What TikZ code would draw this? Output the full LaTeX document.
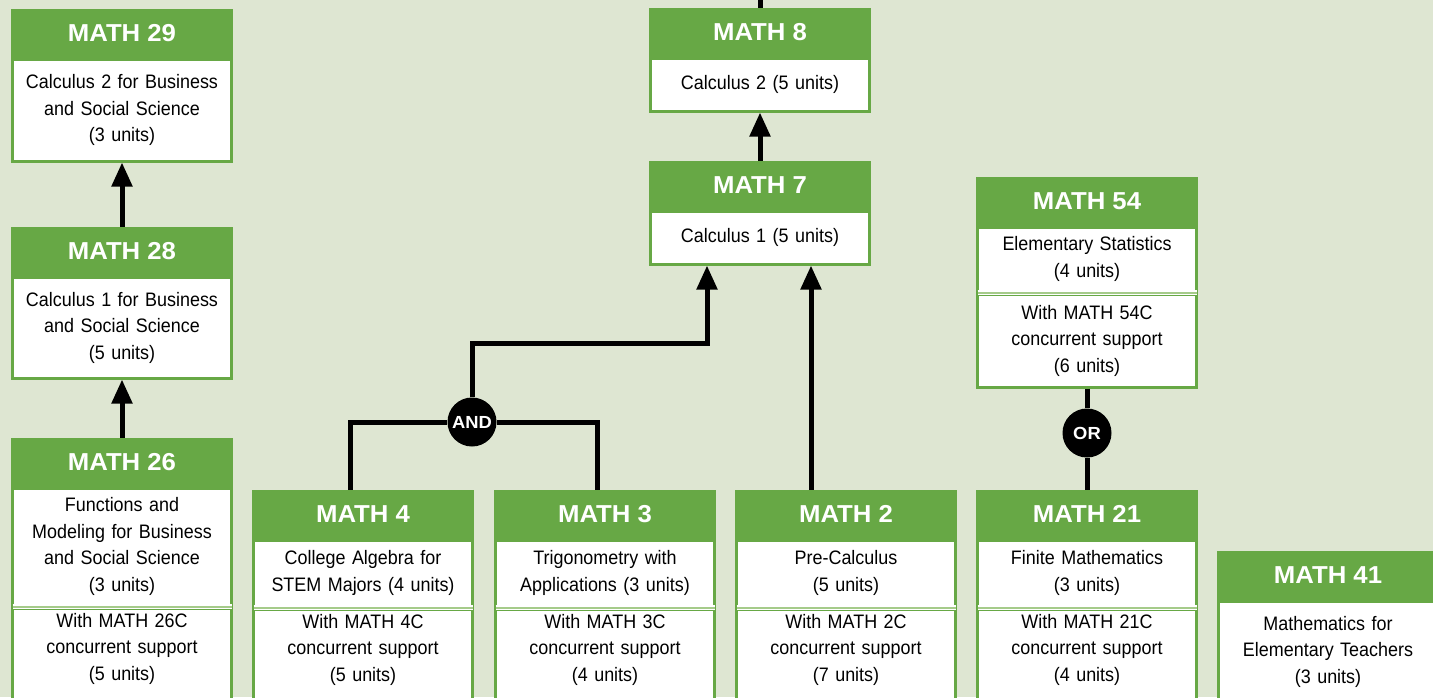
\documentclass[tikz,border=0pt]{standalone}
\usepackage{fontspec}
\usetikzlibrary{arrows.meta}
\newfontfamily\bodyfamily{Liberation Sans}[FakeStretch=0.92]
\newfontfamily\hdrfamily{Liberation Sans}[FakeStretch=1.05]
\definecolor{bggreen}{HTML}{DEE6D2}
\definecolor{mgreen}{HTML}{67A845}
\definecolor{divgreen}{HTML}{A5CB8A}
\tikzset{
  hdr/.style={rectangle, fill=mgreen, draw=mgreen, line width=3pt, text=white,
    font=\hdrfamily\fontsize{24.5}{28}\selectfont\bfseries,
    minimum width=219pt, minimum height=46pt, inner sep=0pt},
  unit/.style={rectangle, fill=white, draw=mgreen, line width=3pt, anchor=north,
    text width=210pt, align=center, minimum width=219pt, inner sep=4pt,
    font=\bodyfamily\fontsize{19.5}{26.5}\selectfont},
  gate/.style={circle, fill=black, text=white, minimum size=49pt, inner sep=0pt,
    font=\hdrfamily\fontsize{17.5}{18}\selectfont\bfseries},
  link/.style={line width=5pt},
  arr/.style={line width=5pt, -{Triangle[width=20pt,length=24pt]}},
  divider/.style={draw=divgreen, line width=2pt, preaction={draw=white, line width=5pt}}
}
\begin{document}
\begin{tikzpicture}[x=1pt, y=-1pt]
  \useasboundingbox (0,0) rectangle (1433,697);
  \fill[bggreen] (0,0) rectangle (1433,697);
  % Business calculus column
  \node[hdr] (m29) at (122,33) {MATH 29};
  \node[unit, minimum height=102pt] (m29b) at (m29.south) {Calculus 2 for Business\\and Social Science\\(3 units)};
  \node[hdr] (m28) at (122,251) {MATH 28};
  \node[unit, minimum height=101pt] (m28b) at (m28.south) {Calculus 1 for Business\\and Social Science\\(5 units)};
  \node[hdr] (m26) at (122,462) {MATH 26};
  \node[unit, minimum height=117pt] (m26b) at (m26.south) {Functions and\\Modeling for Business\\and Social Science\\(3 units)};
  \node[unit, inner ysep=5pt] (m26c) at (m26b.south) {With MATH 26C\\concurrent support\\(5 units)\\[30pt]\mbox{}};
  % STEM calculus
  \node[hdr] (m8) at (760,32) {MATH 8};
  \node[unit, minimum height=53pt] (m8b) at (m8.south) {Calculus 2 (5 units)};
  \node[hdr] (m7) at (760,185) {MATH 7};
  \node[unit, minimum height=53pt] (m7b) at (m7.south) {Calculus 1 (5 units)};
  % Statistics
  \node[hdr] (m54) at (1087,201) {MATH 54};
  \node[unit, minimum height=64pt] (m54b) at (m54.south) {Elementary Statistics\\(4 units)};
  \node[unit, minimum height=93pt] (m54c) at (m54b.south) {With MATH 54C\\concurrent support\\(6 units)};
  % Bottom row
  \node[hdr] (m4) at (363,514) {MATH 4};
  \node[unit, minimum height=66pt] (m4b) at (m4.south) {College Algebra for\\STEM Majors (4 units)};
  \node[unit, inner ysep=5pt] (m4c) at (m4b.south) {With MATH 4C\\concurrent support\\(5 units)\\[30pt]\mbox{}};
  \node[hdr] (m3) at (605,514) {MATH 3};
  \node[unit, minimum height=66pt] (m3b) at (m3.south) {Trigonometry with\\Applications (3 units)};
  \node[unit, inner ysep=5pt] (m3c) at (m3b.south) {With MATH 3C\\concurrent support\\(4 units)\\[30pt]\mbox{}};
  \node[hdr] (m2) at (846,514) {MATH 2};
  \node[unit, minimum height=66pt] (m2b) at (m2.south) {Pre-Calculus\\(5 units)};
  \node[unit, inner ysep=5pt] (m2c) at (m2b.south) {With MATH 2C\\concurrent support\\(7 units)\\[30pt]\mbox{}};
  \node[hdr] (m21) at (1087,514) {MATH 21};
  \node[unit, minimum height=66pt] (m21b) at (m21.south) {Finite Mathematics\\(3 units)};
  \node[unit, inner ysep=5pt] (m21c) at (m21b.south) {With MATH 21C\\concurrent support\\(4 units)\\[30pt]\mbox{}};
  \node[hdr] (m41) at (1328,575) {MATH 41};
  \node[unit, inner ysep=15pt] (m41b) at (m41.south) {Mathematics for\\Elementary Teachers\\(3 units)\\[30pt]\mbox{}};
  % Light rules between course and support parts
  \foreach \c in {m26c,m54c,m4c,m3c,m2c,m21c}
    \draw[divider] ([xshift=1.5pt]\c.north west) -- ([xshift=-1.5pt]\c.north east);
  % Gates
  \node[gate] (andgate) at (472,422) {AND};
  \node[gate] (orgate) at (1087,433) {OR};
  % Connectors
  \coordinate (topedge) at (760,0);
  \draw[link] (topedge) -- (m8.north);
  \draw[arr] (m7.north) -- (m8b.south);
  \draw[arr] (m28.north) -- (m29b.south);
  \draw[arr] (m26.north) -- (m28b.south);
  \draw[link] (andgate.west) -| ([xshift=-13pt]m4.north);
  \draw[link] (andgate.east) -| ([xshift=-8pt]m3.north);
  \draw[arr] (andgate.north) -- ++(0,-54) -| ([xshift=-53pt]m7b.south);
  \draw[arr] ([xshift=-35pt]m2.north) -- ([xshift=51pt]m7b.south);
  \draw[link] (m54c.south) -- (orgate.north);
  \draw[link] (orgate.south) -- (m21.north);
\end{tikzpicture}
\end{document}
